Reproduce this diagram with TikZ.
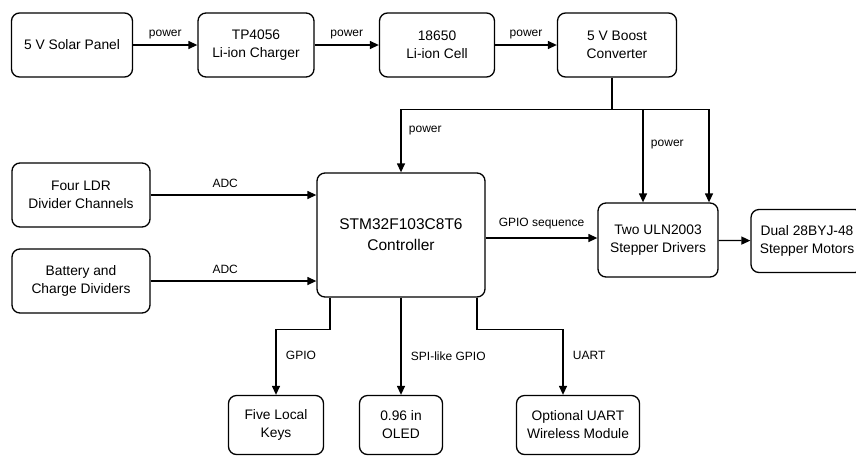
\documentclass[tikz,border=0pt]{standalone}
\usepackage{fontspec}
\setmainfont{Liberation Sans}
\usetikzlibrary{arrows.meta,positioning,calc}

\begin{document}
\begin{tikzpicture}[
    x=1pt, y=-1pt,
    >={Triangle[length=9pt,width=8pt]},
    font=\fontsize{13.8}{18}\selectfont,
    block/.style={draw, line width=1.3pt, rounded corners=8pt, align=center, inner sep=2pt},
    link/.style={->, line width=1.3pt},
    lbl/.style={font=\fontsize{12}{14}\selectfont}
]
    \useasboundingbox (0,0) rectangle (856,456);

    % --- 电源链 ---
    \node[block, minimum width=121pt, minimum height=64pt] (solar)   at (72,45)  {5 V Solar Panel};
    \node[block, minimum width=116pt, minimum height=64pt] (charger) at (256,45) {TP4056\\Li-ion Charger};
    \node[block, minimum width=115pt, minimum height=64pt] (cell)    at (437,45) {18650\\Li-ion Cell};
    \node[block, minimum width=119pt, minimum height=64pt] (boost)   at (617,45) {5 V Boost\\Converter};

    % --- 输入 / 控制器 / 驱动 ---
    \node[block, minimum width=138pt, minimum height=64pt] (ldr)   at (81,195) {Four LDR\\Divider Channels};
    \node[block, minimum width=138pt, minimum height=64pt] (batt)  at (81,281) {Battery and\\Charge Dividers};
    \node[block, minimum width=168pt, minimum height=124pt, font=\fontsize{15.5}{21}\selectfont] (mcu) at (401,235) {STM32F103C8T6\\Controller};
    \node[block, minimum width=120pt, minimum height=74pt] (uln)   at (658,240) {Two ULN2003\\Stepper Drivers};
    \node[block, minimum width=112pt, minimum height=63pt] (motor) at (807,241) {Dual 28BYJ-48\\Stepper Motors};

    % --- 外设 ---
    \node[block, minimum width=95pt,  minimum height=59pt] (keys) at (276,425) {Five Local\\Keys};
    \node[block, minimum width=83pt,  minimum height=59pt] (oled) at (401,425) {0.96 in\\OLED};
    \node[block, minimum width=123pt, minimum height=59pt] (wifi) at (578,425) {Optional UART\\Wireless Module};

    % --- 电源连线 ---
    \draw[link] (solar) -- node[above=2pt, lbl] {power} (charger);
    \draw[link] (charger) -- node[above=2pt, lbl] {power} (cell);
    \draw[link] (cell) -- node[above=2pt, lbl] {power} (boost);

    % 升压输出总线
    \coordinate (tap)  at ($(boost.south)+(-5,32)$);
    \coordinate (drvA) at ($(uln.north)+(-15,0)$);
    \coordinate (drvB) at ($(uln.north)+(51,0)$);
    \draw[line width=1.3pt] ($(boost.south)+(-5,0)$) -- (tap);
    \draw[link] (tap) -| node[pos=0.67, right=4pt, lbl] {power} (mcu.north);
    \draw[link] (tap) -| node[pos=0.69, right=4pt, lbl] {power} (drvA);
    \draw[link] (tap) -| (drvB);

    % --- 信号连线 ---
    \coordinate (seq) at ($(uln.west)+(0,-2)$);
    \draw[link] (ldr) -- node[pos=0.45, above=3pt, lbl] {ADC} (ldr -| mcu.west);
    \draw[link] (batt) -- node[pos=0.45, above=3pt, lbl] {ADC} (batt -| mcu.west);
    \draw[link] (seq -| mcu.east) -- node[above=5pt, lbl] {GPIO sequence} (seq);
    \draw[link] (uln) -- (motor);

    % 控制器下方分支
    \coordinate (kTap) at ($(mcu.south)+(-71,0)$);
    \coordinate (uTap) at ($(mcu.south)+(76,0)$);
    \coordinate (uIn)  at ($(wifi.north)+(-15,0)$);
    \draw[link] (kTap) -- ++(0,32) -| node[pos=0.7, right=6pt, lbl] {GPIO} (keys.north);
    \draw[link] (mcu.south) -- node[pos=0.6, right=6pt, lbl] {SPI-like GPIO} (oled.north);
    \draw[link] (uTap) -- ++(0,32) -| node[pos=0.7, right=6pt, lbl] {UART} (uIn);
\end{tikzpicture}
\end{document}
